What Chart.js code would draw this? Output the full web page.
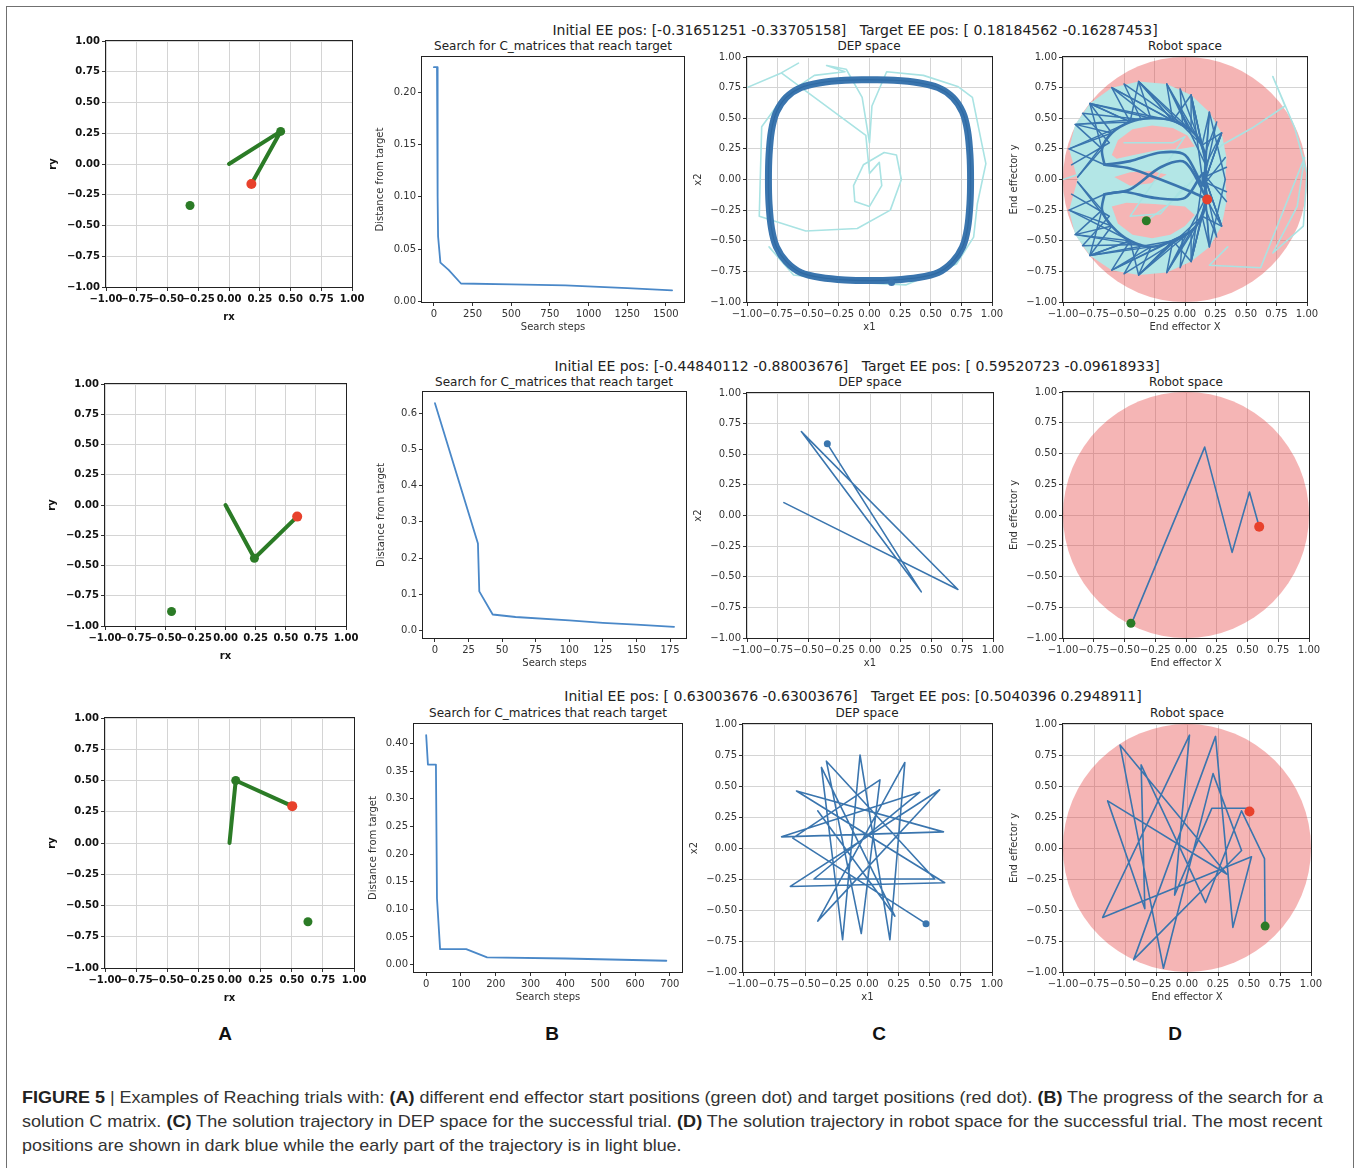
<!DOCTYPE html>
<html>
<head>
<meta charset="utf-8">
<script src="https://cdn.jsdelivr.net/npm/chart.js@4.4.0/dist/chart.umd.min.js"></script>
<style>
html, body { margin: 0; padding: 0; background: #fff; }
body { width: 1360px; height: 1168px; position: relative; overflow: hidden; font-family: 'DejaVu Sans', sans-serif; }
#frame { position: absolute; left: 6px; top: 6px; width: 1348px; height: 1180px; border: 1px solid #707070; box-sizing: border-box; }
.sup { position: absolute; font-size: 14px; line-height: 16px; color: #222; white-space: pre; transform: translateX(-50%); }
.ttl { position: absolute; font-size: 12px; line-height: 14px; color: #222; white-space: pre; transform: translateX(-50%); }
.letter { position: absolute; font: bold 19px 'Liberation Sans', Arial, sans-serif; line-height: 22px; color: #111; transform: translateX(-50%); }
.cap { position: absolute; left: 22px; font: 17px 'Liberation Sans', Arial, sans-serif; line-height: 20px; color: #333; white-space: pre; transform-origin: 0 0; }
.cap b { color: #222; }
</style>
</head>
<body>
<div id="frame"></div>

<div class="sup" style="left:855px; top:22px">Initial EE pos: [-0.31651251 -0.33705158]   Target EE pos: [ 0.18184562 -0.16287453]</div>
<div class="sup" style="left:857px; top:358px">Initial EE pos: [-0.44840112 -0.88003676]   Target EE pos: [ 0.59520723 -0.09618933]</div>
<div class="sup" style="left:853px; top:688px">Initial EE pos: [ 0.63003676 -0.63003676]   Target EE pos: [0.5040396 0.2948911]</div>

<div class="ttl" style="left:553px; top:39px">Search for C_matrices that reach target</div>
<div class="ttl" style="left:869px; top:39px">DEP space</div>
<div class="ttl" style="left:1185px; top:39px">Robot space</div>
<div class="ttl" style="left:554px; top:375px">Search for C_matrices that reach target</div>
<div class="ttl" style="left:870px; top:375px">DEP space</div>
<div class="ttl" style="left:1186px; top:375px">Robot space</div>
<div class="ttl" style="left:548px; top:706px">Search for C_matrices that reach target</div>
<div class="ttl" style="left:867px; top:706px">DEP space</div>
<div class="ttl" style="left:1187px; top:706px">Robot space</div>

<div class="letter" style="left:225px; top:1023px">A</div>
<div class="letter" style="left:552px; top:1023px">B</div>
<div class="letter" style="left:879px; top:1023px">C</div>
<div class="letter" style="left:1175px; top:1023px">D</div>

<div class="cap" data-w="1301" style="top:1088px"><b>FIGURE 5</b> | Examples of Reaching trials with: <b>(A)</b> different end effector start positions (green dot) and target positions (red dot). <b>(B)</b> The progress of the search for a</div>
<div class="cap" data-w="1300" style="top:1112px">solution C matrix. <b>(C)</b> The solution trajectory in DEP space for the successful trial. <b>(D)</b> The solution trajectory in robot space for the successful trial. The most recent</div>
<div class="cap" data-w="660" style="top:1136px">positions are shown in dark blue while the early part of the trajectory is in light blue.</div>

<script>
// ---- tick values ----
const unitTicks = [-1, -0.75, -0.5, -0.25, 0, 0.25, 0.5, 0.75, 1];
const stepTicks1 = [0, 250, 500, 750, 1000, 1250, 1500];
const distTicks1 = [0, 0.05, 0.1, 0.15, 0.2];
const stepTicks2 = [0, 25, 50, 75, 100, 125, 150, 175];
const distTicks2 = [0, 0.1, 0.2, 0.3, 0.4, 0.5, 0.6];
const stepTicks3 = [0, 100, 200, 300, 400, 500, 600, 700];
const distTicks3 = [0, 0.05, 0.1, 0.15, 0.2, 0.25, 0.3, 0.35, 0.4];

// ---- row 1 ----
const arm1 = [[0, 0], [0.42, 0.265], [0.182, -0.163]];
const joint1 = [[0.42, 0.265]];
const start1 = [[-0.317, -0.337]];
const target1 = [[0.182, -0.163]];

const steps1 = [0, 20, 24, 27, 42, 95, 175, 500, 850, 1250, 1540];
const dist1 = [0.224, 0.224, 0.10, 0.062, 0.037, 0.030, 0.017, 0.0162, 0.0152, 0.0125, 0.0105];

const depLoop1 = [[0, 0.815], [0.2, 0.81], [0.4, 0.79], [0.56, 0.75], [0.68, 0.67], [0.76, 0.55], [0.8, 0.4], [0.82, 0.2],
  [0.825, 0], [0.82, -0.2], [0.8, -0.4], [0.76, -0.55], [0.68, -0.67], [0.56, -0.76], [0.4, -0.8], [0.2, -0.82],
  [0, -0.825], [-0.2, -0.82], [-0.4, -0.8], [-0.56, -0.76], [-0.68, -0.67], [-0.76, -0.55], [-0.8, -0.4], [-0.82, -0.2],
  [-0.825, 0], [-0.82, 0.2], [-0.8, 0.4], [-0.76, 0.55], [-0.68, 0.67], [-0.56, 0.75], [-0.4, 0.79], [-0.2, 0.81], [0, 0.815]];
const depEarly1 = [[-0.58, 0.95], [-0.72, 0.87], [-1.0, 0.75], [-0.72, 0.87], [-0.03, 0.36], [0.0, 0.05], [0.08, 0.14],
  [0.1, -0.05], [0.0, -0.22], [-0.12, -0.18], [-0.13, -0.05], [-0.05, 0.12], [0.12, 0.22], [0.22, 0.2], [0.26, 0.0],
  [0.17, -0.25], [-0.1, -0.4], [-0.52, -0.42], [-0.9, -0.3], [-0.88, 0.43], [-0.7, 0.68], [-0.45, 0.85], [-0.2, 0.88],
  [-0.35, 0.93], [-0.19, 0.9], [-0.06, 0.67], [0.0, 0.3], [0.02, 0.6], [0.14, 0.88], [0.44, 0.85], [0.72, 0.76],
  [0.84, 0.67], [0.95, 0.13], [0.88, -0.2], [0.85, -0.47], [0.71, -0.69], [0.3, -0.86], [-0.1, -0.84], [-0.62, -0.78],
  [-0.82, -0.55]];
const depEnd1 = [[0.18, -0.84]];

const reachRadius = 1;
const robotCover1 = [[-0.88, 0.0], [-0.95, 0.25], [-0.9, 0.45], [-0.78, 0.62], [-0.6, 0.75], [-0.38, 0.8], [-0.15, 0.78],
  [0.05, 0.69], [0.2, 0.55], [0.3, 0.38], [0.34, 0.18], [0.33, 0.0], [0.34, -0.18], [0.3, -0.38], [0.2, -0.55],
  [0.05, -0.67], [-0.15, -0.76], [-0.38, -0.78], [-0.6, -0.74], [-0.78, -0.62], [-0.9, -0.45], [-0.95, -0.25]];
const robotHoles1 = [
  [[-0.6, 0.2], [-0.55, 0.32], [-0.43, 0.41], [-0.27, 0.44], [-0.1, 0.42], [0.02, 0.36], [0.08, 0.27], [-0.04, 0.25], [-0.22, 0.24], [-0.42, 0.2], [-0.56, 0.17]],
  [[-0.58, 0.02], [-0.45, 0.06], [-0.28, 0.07], [-0.15, 0.04], [-0.28, -0.03], [-0.45, -0.05]],
  [[-0.6, -0.22], [-0.48, -0.19], [-0.25, -0.2], [0.0, -0.22], [0.08, -0.29], [0.0, -0.38], [-0.12, -0.45], [-0.27, -0.48], [-0.43, -0.45], [-0.55, -0.36]]
];
const robotEarly1 = [[-0.32, -0.34], [-0.15, -0.22], [0.05, -0.02], [0.3, 0.28], [0.55, 0.42], [0.82, 0.6], [0.72, 0.84],
  [0.9, 0.42], [1.0, 0.05], [0.97, -0.38], [0.72, -0.6], [0.92, -0.22], [0.98, 0.18], [0.62, -0.72], [0.2, -0.7], [0.35, -0.55]];
const robotEarlyInner1 = [[-0.5, 0.3], [-0.1, 0.3], [0.0, 0.35], [-0.45, -0.3], [-0.2, -0.28], [0.0, -0.05]];
const robotStub1 = [[-1.0, 0.0], [-0.85, 0.05]];
const robotDark1 = [
  [[-0.88, 0.02], [-0.68, 0.25], [-0.9, 0.45], [-0.45, 0.47], [-0.6, 0.75], [-0.1, 0.48], [-0.15, 0.78], [0.14, 0.28], [0.2, 0.55], [0.15, -0.05], [0.33, 0.18]],
  [[-0.66, 0.12], [-0.95, 0.25], [-0.6, 0.38], [-0.78, 0.62], [-0.28, 0.5], [-0.38, 0.8], [0.05, 0.4], [0.05, 0.69], [0.17, 0.12], [0.3, 0.38], [0.15, -0.05]],
  [[-0.95, 0.25], [-0.45, 0.47], [-0.78, 0.62], [-0.1, 0.48], [-0.38, 0.8], [0.14, 0.28], [0.05, 0.69], [0.15, -0.05], [0.3, 0.38]],
  [[-0.68, 0.25], [-0.78, 0.62], [-0.45, 0.47], [-0.38, 0.8], [-0.1, 0.48], [0.05, 0.69], [0.14, 0.28], [0.3, 0.38], [0.15, -0.05]],
  [[-0.88, 0.02], [-0.6, 0.38], [-0.9, 0.45], [-0.28, 0.5], [-0.6, 0.75], [0.05, 0.4], [-0.15, 0.78], [0.17, 0.12], [0.2, 0.55], [0.33, 0.0]],
  [[-0.93, 0.12], [-0.62, 0.3], [-0.84, 0.54], [-0.36, 0.49], [-0.5, 0.78], [-0.02, 0.45], [-0.04, 0.74], [0.16, 0.2], [0.26, 0.47], [0.16, 0.02], [0.34, 0.1]],
  [[-0.88, -0.02], [-0.68, -0.25], [-0.9, -0.45], [-0.45, -0.5], [-0.6, -0.74], [-0.1, -0.5], [-0.15, -0.76], [0.14, -0.3], [0.2, -0.55], [0.15, 0.05], [0.34, -0.18]],
  [[-0.66, -0.12], [-0.95, -0.25], [-0.6, -0.38], [-0.78, -0.62], [-0.28, -0.55], [-0.38, -0.78], [0.05, -0.42], [0.05, -0.67], [0.17, -0.15], [0.3, -0.38], [0.15, 0.05]],
  [[-0.95, -0.25], [-0.45, -0.5], [-0.78, -0.62], [-0.1, -0.5], [-0.38, -0.78], [0.14, -0.3], [0.05, -0.67], [0.15, 0.05], [0.3, -0.38]],
  [[-0.68, -0.25], [-0.78, -0.62], [-0.45, -0.5], [-0.38, -0.78], [-0.1, -0.5], [0.05, -0.67], [0.14, -0.3], [0.3, -0.38], [0.15, 0.05]],
  [[-0.88, -0.02], [-0.6, -0.38], [-0.9, -0.45], [-0.28, -0.55], [-0.6, -0.74], [0.05, -0.42], [-0.15, -0.76], [0.17, -0.15], [0.2, -0.55], [0.33, 0.0]],
  [[-0.93, -0.12], [-0.62, -0.3], [-0.84, -0.54], [-0.36, -0.53], [-0.5, -0.77], [-0.02, -0.47], [-0.04, -0.72], [0.16, -0.22], [0.26, -0.47], [0.16, -0.02], [0.34, -0.1]]
];
const robotLoops1 = [
  [[-0.66, 0.12], [-0.68, 0.25], [-0.6, 0.38], [-0.45, 0.47], [-0.28, 0.5], [-0.1, 0.48], [0.05, 0.4], [0.14, 0.28], [0.17, 0.12], [0.15, -0.05], [0.0, 0.2], [-0.2, 0.22], [-0.45, 0.15], [-0.66, 0.12]],
  [[-0.66, -0.12], [-0.68, -0.25], [-0.6, -0.38], [-0.45, -0.5], [-0.28, -0.55], [-0.1, -0.5], [0.05, -0.42], [0.14, -0.3], [0.17, -0.15], [0.15, 0.05], [0.0, -0.15], [-0.25, -0.15], [-0.5, -0.1], [-0.66, -0.12]],
  [[-0.66, 0.12], [-0.45, 0.09], [-0.2, 0.0], [0.05, -0.1], [0.18, -0.16]],
  [[-0.66, -0.12], [-0.45, -0.08], [-0.2, 0.1], [0.0, 0.14], [0.18, -0.16]]
];

// ---- row 2 ----
const arm2 = [[0, 0], [0.24, -0.44], [0.595, -0.096]];
const joint2 = [[0.24, -0.44]];
const start2 = [[-0.448, -0.88]];
const target2 = [[0.595, -0.096]];

const steps2 = [0, 32, 33, 43, 60, 100, 125, 150, 178];
const dist2 = [0.628, 0.24, 0.108, 0.044, 0.037, 0.028, 0.021, 0.016, 0.010];

const depPath2 = [[-0.70, 0.105], [0.715, -0.604], [-0.558, 0.685], [0.417, -0.623], [-0.347, 0.585]];
const depEnd2 = [[-0.347, 0.585]];

const robotPath2 = [[-0.443, -0.883], [0.152, 0.552], [0.375, -0.304], [0.516, 0.187], [0.595, -0.096]];

// ---- row 3 ----
const arm3 = [[0, 0], [0.05, 0.5], [0.504, 0.295]];
const joint3 = [[0.05, 0.5]];
const start3 = [[0.63, -0.63]];
const target3 = [[0.504, 0.295]];

const steps3 = [0, 5, 28, 31, 40, 115, 175, 400, 690];
const dist3 = [0.415, 0.362, 0.362, 0.12, 0.028, 0.028, 0.013, 0.011, 0.007];

const depPath3 = [[-0.40, 0.30], [0.22, -0.55], [-0.37, 0.65], [-0.20, -0.74], [-0.06, 0.75], [0.18, -0.74], [0.30, 0.69],
  [-0.40, -0.59], [0.58, 0.47], [-0.62, -0.31], [0.62, -0.28], [-0.57, 0.46], [0.61, 0.13], [-0.69, 0.09], [0.42, 0.45],
  [-0.43, -0.25], [0.54, -0.25], [-0.33, 0.70], [-0.05, -0.69], [0.10, 0.55], [-0.60, 0.08], [0.47, -0.61]];
const depEnd3 = [[0.47, -0.61]];

const robotPath3 = [[0.63, -0.64], [0.625, -0.085], [0.44, 0.30], [0.15, -0.44], [-0.37, 0.67], [-0.34, -0.49],
  [-0.64, 0.38], [0.32, -0.21], [-0.54, 0.83], [-0.19, -0.97], [0.21, 0.60], [0.44, -0.02], [-0.43, -0.90],
  [0.23, 0.90], [0.37, -0.64], [0.52, -0.07], [-0.68, -0.56], [0.02, 0.91], [-0.10, -0.38], [0.20, 0.32],
  [0.50, 0.32], [0.504, 0.295]];

// ---- styling ----
const GREEN = '#2b7b26';
const RED = '#e8412c';
const DARK = '#3a75ae';
const LIGHT = '#a9e3e3';
const SEARCH = '#4a88c8';
const PAD = { left: 2, right: 18, top: 10, bottom: 4 };

const xy = pts => pts.map(([x, y]) => ({ x, y }));
const line = (pts, color, width, tension = 0) => ({ data: xy(pts), showLine: true, borderColor: color, borderWidth: width,
  pointRadius: 0, borderJoinStyle: 'round', borderCapStyle: 'round', tension });
const dots = (pts, color, r) => ({ data: xy(pts), showLine: false, pointRadius: r, pointBackgroundColor: color,
  pointBorderColor: color, pointBorderWidth: 0 });
const series = (xs, ys) => xs.map((x, i) => [x, ys[i]]);

function fmt(digits) {
  return v => (v < -1e-9 ? '\u2212' : '') + Math.abs(v).toFixed(digits);
}

function polygon(chart, pts, color) {
  const { ctx, scales: { x, y } } = chart;
  ctx.beginPath();
  pts.forEach(([px, py], i) => {
    const X = x.getPixelForValue(px), Y = y.getPixelForValue(py);
    if (i === 0) ctx.moveTo(X, Y); else ctx.lineTo(X, Y);
  });
  ctx.closePath();
  ctx.fillStyle = color;
  ctx.fill();
}

function reachDisc(chart) {
  const { ctx, chartArea: a, scales: { x, y } } = chart;
  const cx = x.getPixelForValue(0), cy = y.getPixelForValue(0);
  const rx = x.getPixelForValue(reachRadius) - cx, ry = cy - y.getPixelForValue(reachRadius);
  ctx.save();
  ctx.beginPath();
  ctx.rect(a.left, a.top, a.right - a.left, a.bottom - a.top);
  ctx.clip();
  ctx.beginPath();
  ctx.ellipse(cx, cy, rx, ry, 0, 0, Math.PI * 2);
  ctx.fillStyle = 'rgba(230, 60, 60, 0.38)';
  ctx.fill();
  ctx.restore();
}

const spines = {
  id: 'spines',
  afterDatasetsDraw(chart) {
    const { ctx, chartArea: a } = chart;
    ctx.save();
    ctx.strokeStyle = '#222';
    ctx.lineWidth = 1;
    ctx.strokeRect(Math.round(a.left) - 0.5, Math.round(a.top) - 0.5, Math.round(a.right - a.left) + 1, Math.round(a.bottom - a.top) + 1);
    ctx.restore();
  }
};

function makeChart(area, cfg) {
  const [l, t, r, b] = area;
  const w = r - l + cfg.yW + PAD.left + PAD.right;
  const h = b - t + cfg.xH + PAD.top + PAD.bottom;
  const cv = document.createElement('canvas');
  cv.width = w;
  cv.height = h;
  cv.style.cssText = `position:absolute;left:${l - cfg.yW - PAD.left}px;top:${t - PAD.top}px;width:${w}px;height:${h}px`;
  document.body.appendChild(cv);

  const font = cfg.bold ? { family: 'DejaVu Sans', size: 10, weight: 'bold' } : { family: 'DejaVu Sans', size: 10 };
  const textColor = cfg.bold ? '#111' : '#333';

  const scale = (ax, pos, size) => ({
    type: 'linear',
    position: pos,
    min: ax.min,
    max: ax.max,
    afterBuildTicks: s => { s.ticks = ax.ticks.map(v => ({ value: v })); },
    afterFit: s => {
      if (pos === 'left') s.width = size; else s.height = size;
      s.paddingLeft = 0; s.paddingRight = 0; s.paddingTop = 0; s.paddingBottom = 0;
    },
    ticks: { autoSkip: false, maxRotation: 0, minRotation: 0, padding: 2, font, color: textColor, callback: fmt(ax.digits) },
    grid: { display: true, drawOnChartArea: cfg.grid, color: '#d4d4d4', lineWidth: 1, drawTicks: true, tickLength: 4, tickColor: '#333' },
    border: { display: false },
    title: { display: true, text: ax.title, font, color: textColor, padding: { top: 4, bottom: 4 } }
  });

  new Chart(cv, {
    type: 'scatter',
    data: { datasets: cfg.datasets.slice().reverse() },
    options: {
      responsive: false,
      animation: false,
      events: [],
      layout: { padding: PAD },
      plugins: { legend: { display: false }, tooltip: { enabled: false } },
      scales: { x: scale(cfg.x, 'bottom', cfg.xH), y: scale(cfg.y, 'left', cfg.yW) }
    },
    plugins: [spines, { id: 'under', beforeDatasetsDraw: chart => { if (cfg.under) cfg.under(chart); } }]
  });
}

const unitAxis = title => ({ min: -1, max: 1, ticks: unitTicks, digits: 2, title });

function armPanel(area, arm, joint, start, target) {
  makeChart(area, {
    yW: 63, xH: 40, grid: true, bold: true,
    x: unitAxis('rx'), y: unitAxis('ry'),
    datasets: [line(arm, GREEN, 4), dots(joint, GREEN, 4.5), dots(start, GREEN, 4.5), dots(target, RED, 5)]
  });
}

function searchPanel(area, yW, xs, ys, xAx, yAx) {
  makeChart(area, {
    yW, xH: 35, grid: false,
    x: Object.assign({ digits: 0, title: 'Search steps' }, xAx),
    y: Object.assign({ title: 'Distance from target' }, yAx),
    datasets: [line(series(xs, ys), SEARCH, 1.8)]
  });
}

function depPanel(area, datasets) {
  makeChart(area, { yW: 59, xH: 35, grid: true, x: unitAxis('x1'), y: unitAxis('x2'), datasets });
}

function robotPanel(area, datasets, under) {
  makeChart(area, { yW: 59, xH: 35, grid: true, x: unitAxis('End effector X'), y: unitAxis('End effector y'), datasets, under });
}

// ---- row 1 ----
armPanel([106, 41, 352, 287], arm1, joint1, start1, target1);
searchPanel([422, 57, 684, 302], 52, steps1, dist1,
  { min: -77, max: 1617, ticks: stepTicks1 }, { min: -0.0007, max: 0.2337, ticks: distTicks1, digits: 2 });
depPanel([747, 57, 992, 302], [
  line(depEarly1, LIGHT, 1.6), line(depLoop1, DARK, 7, 0.3), line(depLoop1, '#2f6aa3', 1.2, 0.3), dots(depEnd1, DARK, 3.5)
]);
robotPanel([1063, 57, 1307, 302], [
  line(robotStub1, LIGHT, 1.6), line(robotEarly1, LIGHT, 1.6), line(robotEarlyInner1, LIGHT, 1.4),
  ...robotDark1.map(p => line(p, DARK, 1.5)),
  ...robotLoops1.map(p => line(p, DARK, 2.6, 0.3)),
  dots(start1, GREEN, 4.5), dots(target1, RED, 5)
], chart => {
  reachDisc(chart);
  polygon(chart, robotCover1, '#b3e6e6');
  robotHoles1.forEach(hole => polygon(chart, hole, '#f5b5b5'));
});

// ---- row 2 ----
armPanel([105, 384, 346, 626], arm2, joint2, start2, target2);
searchPanel([423, 392, 686, 638], 52, steps2, dist2,
  { min: -8.9, max: 186.9, ticks: stepTicks2 }, { min: -0.021, max: 0.659, ticks: distTicks2, digits: 1 });
depPanel([747, 393, 993, 638], [line(depPath2, DARK, 1.6), dots(depEnd2, DARK, 3.5)]);
robotPanel([1063, 392, 1309, 638], [line(robotPath2, DARK, 1.6), dots(start2, GREEN, 4.5), dots(target2, RED, 5)], reachDisc);

// ---- row 3 ----
armPanel([105, 718, 354, 968], arm3, joint3, start3, target3);
searchPanel([414, 724, 682, 972], 51, steps3, dist3,
  { min: -35, max: 735, ticks: stepTicks3 }, { min: -0.0134, max: 0.4354, ticks: distTicks3, digits: 2 });
depPanel([743, 724, 992, 972], [line(depPath3, DARK, 1.6), dots(depEnd3, DARK, 3.5)]);
robotPanel([1063, 724, 1311, 972], [line(robotPath3, DARK, 1.6), dots(start3, GREEN, 4.5), dots(target3, RED, 5)], reachDisc);

// caption lines stretched to the printed widths
document.querySelectorAll('.cap').forEach(el => {
  const target = +el.dataset.w;
  el.style.transform = `scaleX(${target / el.scrollWidth})`;
});
</script>
</body>
</html>
